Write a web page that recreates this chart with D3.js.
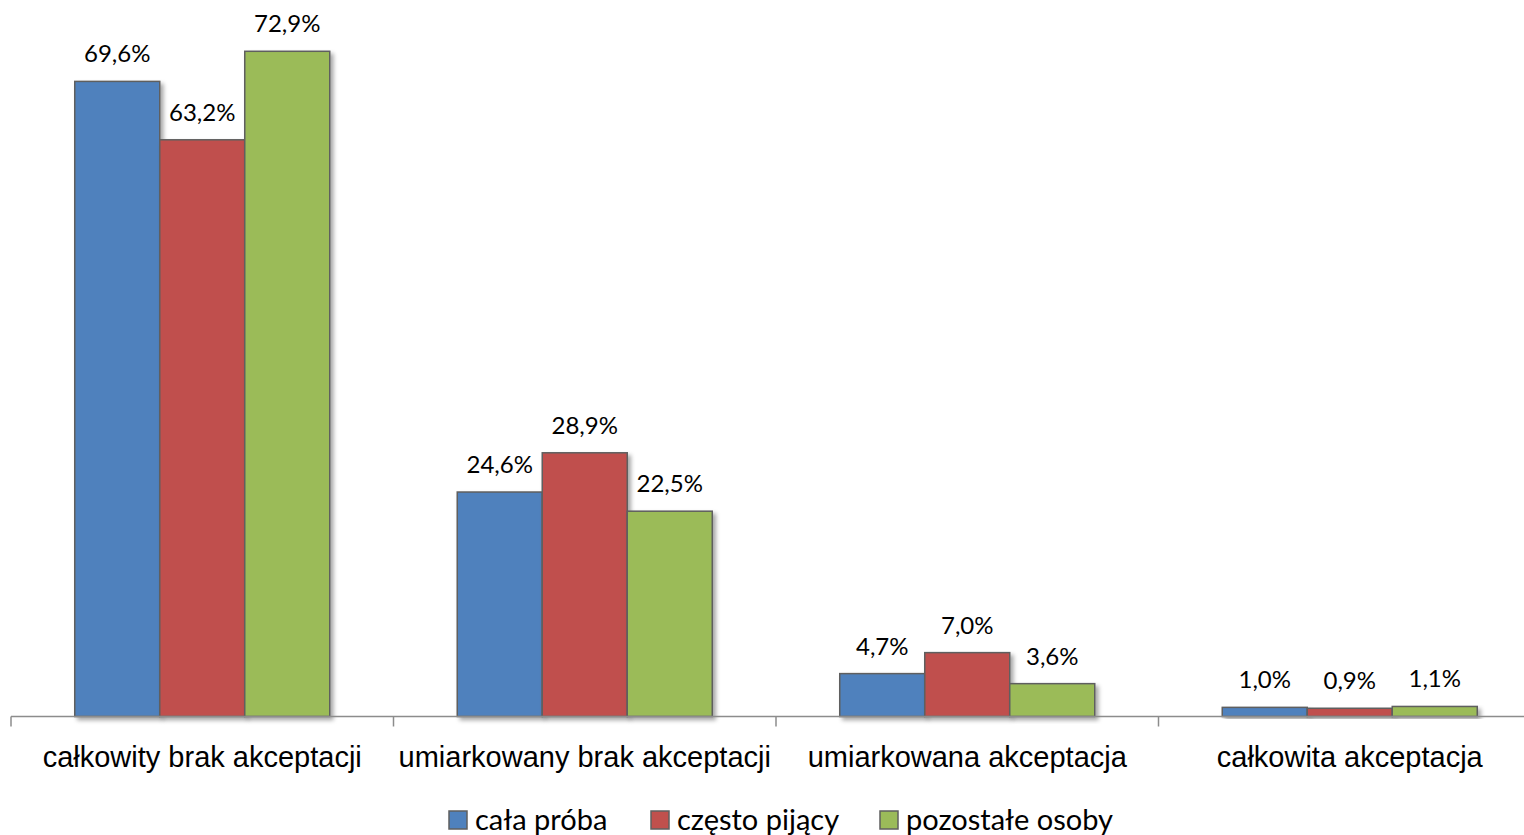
<!DOCTYPE html>
<html><head><meta charset="utf-8">
<script src="https://cdn.jsdelivr.net/npm/d3@7"></script>
<style>
html,body{margin:0;padding:0;background:#fff;}
svg{display:block;font-family:Lato,"Open Sans",sans-serif;}
</style></head>
<body>
<svg id="chart" width="1524" height="835"></svg>
<script>
const categories = ["całkowity brak akceptacji","umiarkowany brak akceptacji","umiarkowana akceptacja","całkowita akceptacja"];
const seriesNames = ["cała próba","często pijący","pozostałe osoby"];
const calaProba = [69.6, 24.6, 4.7, 1.0];
const czestoPijacy = [63.2, 28.9, 7.0, 0.9];
const pozostaleOsoby = [72.9, 22.5, 3.6, 1.1];
const colors = ["#4F81BD","#C0504D","#9BBB59"];

const seriesValues = [calaProba, czestoPijacy, pozostaleOsoby];
const fmt = v => v.toFixed(1).replace(".", ",") + "%";

const svg = d3.select("#chart");
const defs = svg.append("defs");
const f = defs.append("filter").attr("id","shadow").attr("x","-10%").attr("y","-10%").attr("width","130%").attr("height","130%");
f.append("feDropShadow").attr("dx",3).attr("dy",3).attr("stdDeviation",2).attr("flood-color","#000").attr("flood-opacity",0.35);

const axisY = 716.5;
const x0 = d3.scaleBand().domain(categories).range([11, 1541]).paddingInner(0).paddingOuter(0);
const x1 = d3.scaleBand().domain(d3.range(3)).range([0, x0.bandwidth()]).paddingInner(0).paddingOuter(0.75);
const y = d3.scaleLinear().domain([0, 80]).range([axisY, axisY - 730]);

const g = svg.append("g");
categories.forEach((c, ci) => {
  const gg = g.append("g").attr("transform", `translate(${x0(c)},0)`);
  seriesValues.forEach((vals, si) => {
    gg.append("rect")
      .attr("x", x1(si))
      .attr("y", y(vals[ci]))
      .attr("width", x1.bandwidth())
      .attr("height", axisY - y(vals[ci]))
      .attr("fill", colors[si])
      .attr("stroke", "#5f5f5f")
      .attr("stroke-width", 1.5)
      .attr("filter", "url(#shadow)");
  });
  seriesValues.forEach((vals, si) => {
    gg.append("text")
      .attr("x", x1(si) + x1.bandwidth()/2)
      .attr("y", y(vals[ci]) - 19)
      .attr("text-anchor","middle")
      .attr("font-size", 24)
      .attr("fill","#000")
      .text(fmt(vals[ci]));
  });
});

// axis
const axis = d3.axisBottom(x0).tickSize(0).tickFormat("");
const ax = svg.append("g").attr("transform", `translate(0,${axisY})`).call(axis);
ax.select(".domain").attr("stroke","#8c8c8c").attr("stroke-width",1.5).attr("d", `M11,0H1524`);
const tickPos = categories.map(c => x0(c));
ax.selectAll(".sep").data(tickPos).enter().append("line")
  .attr("x1", d=>d).attr("x2", d=>d).attr("y1",0).attr("y2",10)
  .attr("stroke","#8c8c8c").attr("stroke-width",1.5);
ax.selectAll(".cl").data(categories).enter().append("text")
  .attr("x", d => x0(d) + x0.bandwidth()/2)
  .attr("y", 767 - axisY)
  .attr("text-anchor","middle")
  .attr("font-size", 29)
  .attr("fill","#000")
  .text(d=>d);

// legend
const legendX = [449, 651, 880];
const lg = svg.append("g");
seriesNames.forEach((n, i) => {
  lg.append("rect").attr("x", legendX[i]).attr("y", 811).attr("width", 18).attr("height", 18)
    .attr("fill", colors[i]).attr("stroke","#5f5f5f").attr("stroke-width",1.5);
  lg.append("text").attr("x", legendX[i] + 26).attr("y", 830).attr("font-size", 29).attr("fill","#000").text(n);
});
</script>
</body></html>
